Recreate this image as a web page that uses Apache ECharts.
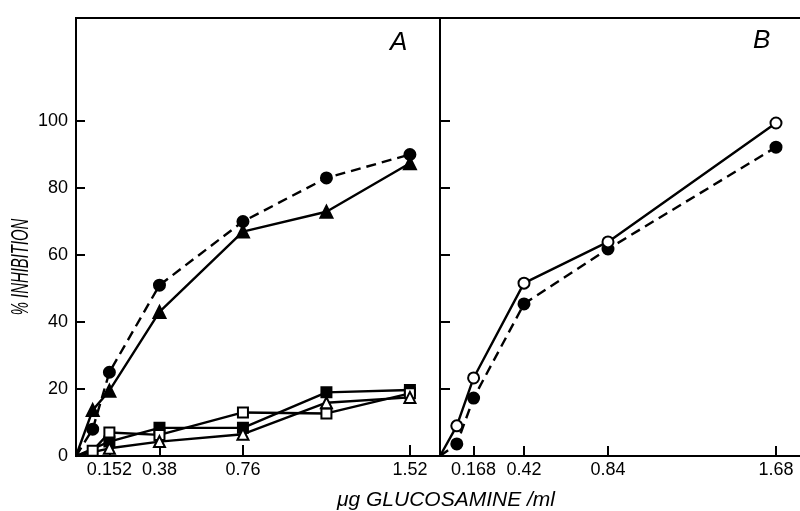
<!DOCTYPE html>
<html>
<head>
<meta charset="utf-8">
<script src="https://cdn.jsdelivr.net/npm/echarts@6/dist/echarts.min.js"></script>
<style>html,body{margin:0;padding:0;background:#fff;}#c{width:800px;height:511px;}</style>
</head>
<body>
<div id="c"></div>
<script>
// Panel A
var xA = [0, 0.076, 0.152, 0.38, 0.76, 1.14, 1.52];
var aFilledCircle = [0, 8, 25, 51, 70, 83, 90];
var aFilledTriangle = [0, 13.7, 19.5, 43, 67, 72.9, 87.4];
var xAlow = [0, 0.152, 0.38, 0.76, 1.14, 1.52];
var aFilledSquare = [0, 4.3, 8.4, 8.4, 19, 19.7];
var aOpenTriangle = [0, 2.3, 4.3, 6.5, 15.9, 17.5];
var xAopenSq = [0, 0.076, 0.152, 0.38, 0.76, 1.14, 1.52];
var aOpenSquare = [0, 1.6, 7, 6.3, 13, 12.7, 18.7];
// Panel B
var xB = [0, 0.084, 0.168, 0.42, 0.84, 1.68];
var bOpenCircle = [0, 9, 23.3, 51.6, 63.9, 99.4];
var bFilledCircle = [0, 3.6, 17.3, 45.4, 61.8, 92.2];
// Tick labels
var xTicksA = [0.152, 0.38, 0.76, 1.52];
var xTicksB = [0.168, 0.42, 0.84, 1.68];
var yLabels = [0, 20, 40, 60, 80, 100];
var yTicks = [20, 40, 60, 80, 100];

function pairs(xs, ys) {
  return xs.map(function (x, i) {
    return (x === 0 && ys[i] === 0) ? { value: [x, ys[i]], symbol: 'none' } : [x, ys[i]];
  });
}

var FONT = 'Liberation Sans';

function mkSeries(name, xi, yi, xs, ys, symbol, size, filled, dashed) {
  return {
    name: name, type: 'line', xAxisIndex: xi, yAxisIndex: yi,
    data: pairs(xs, ys),
    symbol: symbol, symbolSize: size, showAllSymbol: true,
    lineStyle: { color: '#000', width: 2.4, type: dashed ? [10, 6] : 'solid' },
    itemStyle: { color: filled ? '#000' : '#fff', borderColor: '#000', borderWidth: 2 },
    emphasis: { disabled: true }, animation: false, z: filled ? 3 : 4
  };
}

var lineStyleAxis = { color: '#000', width: 2 };

var chart = echarts.init(document.getElementById('c'), null, { renderer: 'canvas' });
chart.setOption({
  backgroundColor: '#fff',
  animation: false,
  grid: [
    { left: 76, top: 18, width: 364, height: 438, show: true, borderColor: '#000', borderWidth: 2, backgroundColor: 'transparent' },
    { left: 440, top: 18, width: 360, height: 438, show: false }
  ],
  xAxis: [
    { type: 'value', gridIndex: 0, min: 0, max: 1.657,
      axisLine: { show: true, lineStyle: lineStyleAxis },
      axisTick: { show: true, inside: true, length: 11, customValues: xTicksA, lineStyle: lineStyleAxis },
      axisLabel: { customValues: xTicksA, color: '#000', fontFamily: FONT, fontSize: 18, margin: 5,
        formatter: function (v) { return String(v); } },
      splitLine: { show: false } },
    { type: 'value', gridIndex: 1, min: 0, max: 1.80,
      axisLine: { show: true, lineStyle: lineStyleAxis },
      axisTick: { show: true, inside: true, length: 10, customValues: xTicksB, lineStyle: lineStyleAxis },
      axisLabel: { customValues: xTicksB, color: '#000', fontFamily: FONT, fontSize: 18, margin: 5,
        formatter: function (v) { return String(v); } },
      splitLine: { show: false } },
    { type: 'value', gridIndex: 1, position: 'top', min: 0, max: 1.80,
      axisLine: { show: true, lineStyle: lineStyleAxis },
      axisTick: { show: false }, axisLabel: { show: false }, splitLine: { show: false } }
  ],
  yAxis: [
    { type: 'value', gridIndex: 0, min: 0, max: 130.75,
      axisLine: { show: true, lineStyle: lineStyleAxis },
      axisTick: { show: true, inside: true, length: 9, customValues: yTicks, lineStyle: lineStyleAxis },
      axisLabel: { customValues: yLabels, color: '#000', fontFamily: FONT, fontSize: 18, margin: 8 },
      splitLine: { show: false } },
    { type: 'value', gridIndex: 1, min: 0, max: 130.75,
      axisLine: { show: true, lineStyle: lineStyleAxis },
      axisTick: { show: true, inside: true, length: 10, customValues: yTicks, lineStyle: lineStyleAxis },
      axisLabel: { show: false },
      splitLine: { show: false } }
  ],
  series: [
    mkSeries('A filled circle', 0, 0, xA, aFilledCircle, 'circle', 11, true, true),
    mkSeries('A filled triangle', 0, 0, xA, aFilledTriangle, 'triangle', 12, true, false),
    mkSeries('A filled square', 0, 0, xAlow, aFilledSquare, 'rect', 10, true, false),
    mkSeries('A open square', 0, 0, xAopenSq, aOpenSquare, 'rect', 10, false, false),
    mkSeries('A open triangle', 0, 0, xAlow, aOpenTriangle, 'triangle', 11, false, false),
    mkSeries('B open circle', 1, 1, xB, bOpenCircle, 'circle', 11, false, false),
    mkSeries('B filled circle', 1, 1, xB, bFilledCircle, 'circle', 11, true, true)
  ],
  graphic: [
    { type: 'text', left: 390, top: 30, style: { text: 'A', fontFamily: FONT, fontStyle: 'italic', fontSize: 26, fill: '#000' } },
    { type: 'text', left: 753, top: 28, style: { text: 'B', fontFamily: FONT, fontStyle: 'italic', fontSize: 26, fill: '#000' } },
    { type: 'text', x: 446, y: 500, style: { text: 'μg GLUCOSAMINE /ml', fontFamily: FONT, fontStyle: 'italic', fontSize: 21, fill: '#000', align: 'center', verticalAlign: 'middle' } },
    { type: 'text', x: 21, y: 267, rotation: Math.PI / 2, scaleX: 0.62, style: { text: '% INHIBITION', fontFamily: FONT, fontStyle: 'italic', fontSize: 24, fill: '#000', align: 'center', verticalAlign: 'middle' } }
  ]
});
</script>
</body>
</html>
